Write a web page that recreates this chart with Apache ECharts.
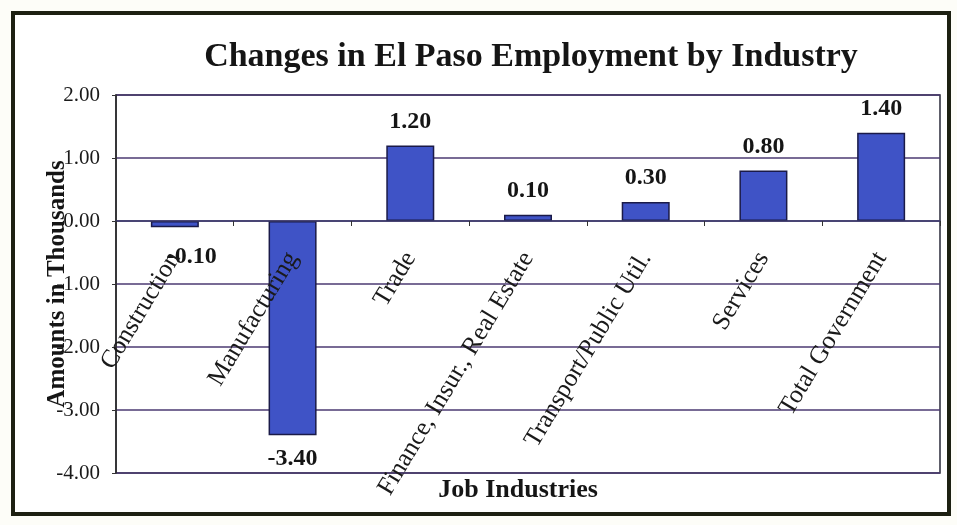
<!DOCTYPE html>
<html>
<head>
<meta charset="utf-8">
<script src="https://cdn.jsdelivr.net/npm/echarts@6/dist/echarts.min.js"></script>
<style>
html,body{margin:0;padding:0;background:#fdfdf8;}
#chart{width:957px;height:525px;}
</style>
</head>
<body>
<div id="chart"></div>
<script>
const categories = ['Construction', 'Manufacturing', 'Trade', 'Finance, Insur., Real Estate', 'Transport/Public Util.', 'Services', 'Total Government'];
const values = [-0.10, -3.40, 1.20, 0.10, 0.30, 0.80, 1.40];
const yTicks = { min: -4, max: 2, interval: 1 };
const titleText = 'Changes in El Paso Employment by Industry';
const yAxisName = 'Amounts in Thousands';
const xAxisName = 'Job Industries';

const FONT = '"Liberation Serif", "Times New Roman", serif';
const chart = echarts.init(document.getElementById('chart'));

const GRID = { left: 116, right: 17, top: 95, bottom: 52 };
const plotH = 525 - GRID.top - GRID.bottom;
// shift x axis up so it crosses the value axis at zero
const zeroOffset = -plotH * (0 - yTicks.min) / (yTicks.max - yTicks.min);

const barData = values.map((v, i) => {
  const label = { position: v < 0 ? 'bottom' : 'top' };
  if (i === 0) label.offset = [17, 5];
  return { value: v, label: label };
});

chart.setOption({
  animation: false,
  backgroundColor: '#fdfdf8',
  title: {
    text: titleText,
    left: 526,
    top: 35,
    textAlign: 'center',
    textStyle: { fontFamily: FONT, fontSize: 34, fontWeight: 'bold', color: '#151515' }
  },
  graphic: [
    {
      type: 'rect',
      shape: { x: 13, y: 13, width: 936, height: 501 },
      style: { fill: '#ffffff', stroke: '#1d2012', lineWidth: 4 },
      z: -10
    }
  ],
  grid: Object.assign({}, GRID, {
    containLabel: false,
    outerBoundsMode: 'none',
    show: true, borderColor: '#2a2a3a', borderWidth: 1.5, backgroundColor: 'transparent'
  }),
  xAxis: {
    type: 'category',
    data: categories,
    position: 'bottom',
    offset: zeroOffset,
    z: 10,
    axisLine: { onZero: false, lineStyle: { color: '#3a3a6a', width: 1.5 } },
    axisTick: { show: true, length: 5, lineStyle: { color: '#333' } },
    axisLabel: {
      rotate: 59, margin: 33, interval: 0, hideOverlap: false,
      fontFamily: FONT, fontSize: 25.5, color: '#1a1a1a'
    },
    name: xAxisName,
    nameLocation: 'middle',
    nameGap: 256,
    nameMoveOverlap: false,
    nameTextStyle: { fontFamily: FONT, fontSize: 26, fontWeight: 'bold', color: '#151515', padding: [0, 20, 0, 0] }
  },
  yAxis: {
    type: 'value',
    min: yTicks.min, max: yTicks.max, interval: yTicks.interval,
    axisLine: { show: true, lineStyle: { color: '#2a2a2a', width: 1.5 } },
    axisTick: { show: true, length: 4, lineStyle: { color: '#333' } },
    splitLine: { show: true, lineStyle: { color: '#4b3a72', width: 1.5 } },
    axisLabel: {
      fontFamily: FONT, fontSize: 21, color: '#1a1a1a', margin: 16,
      formatter: v => v.toFixed(2)
    },
    name: yAxisName,
    nameLocation: 'middle',
    nameGap: 46,
    nameMoveOverlap: false,
    nameRotate: 90,
    nameTextStyle: { fontFamily: FONT, fontSize: 25, fontWeight: 'bold', color: '#151515' }
  },
  series: [{
    type: 'bar',
    data: barData,
    barWidth: 48,
    itemStyle: { color: '#3f53c6', borderColor: '#1a1a48', borderWidth: 1.5 },
    label: {
      show: true,
      distance: 12,
      fontFamily: FONT, fontSize: 24, fontWeight: 'bold', color: '#151515',
      formatter: p => p.value.toFixed(2)
    }
  }]
});
</script>
</body>
</html>
